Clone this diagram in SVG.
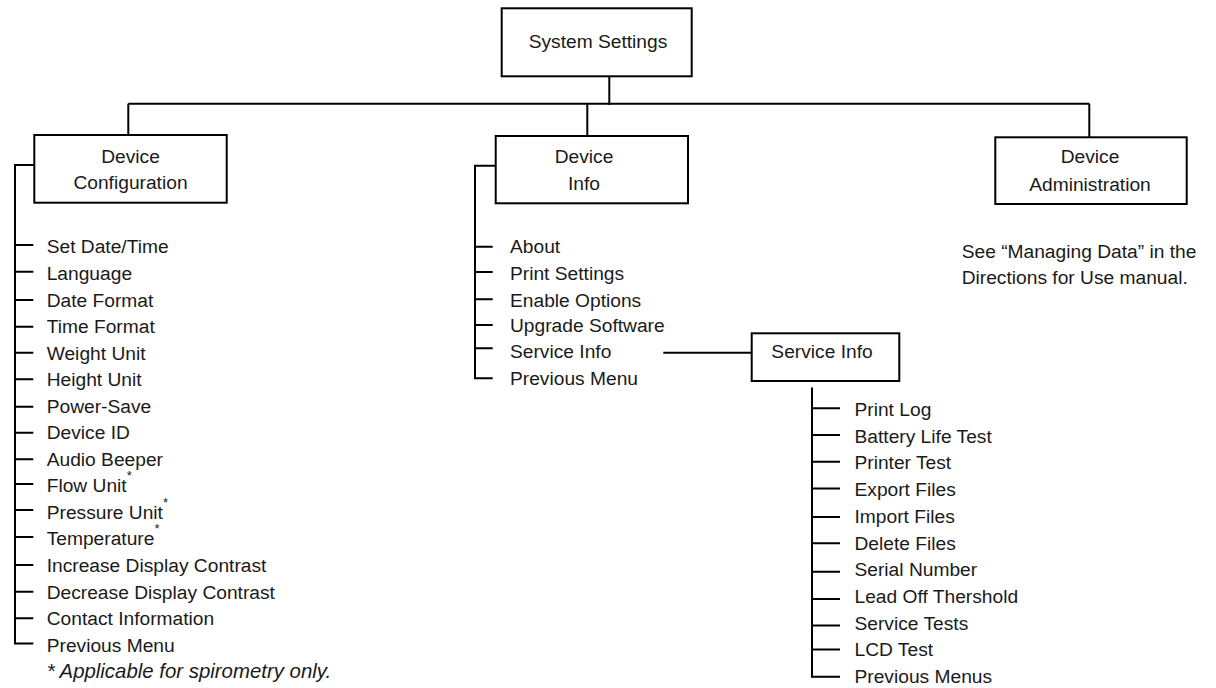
<svg xmlns="http://www.w3.org/2000/svg" width="1216" height="688" viewBox="0 0 1216 688">
<style>
  .box { fill: #ffffff; stroke: #000000; stroke-width: 2; }
  .ln { fill: none; stroke: #000000; stroke-width: 2; }
  text { font-family: "Liberation Sans", Arial, sans-serif; font-size: 19.2px; fill: #1a1a1a; }
  .c { text-anchor: middle; }
  .note { font-style: italic; font-size: 20.4px; }
  .sup { font-size: 13px; }
</style>
<rect width="1216" height="688" fill="#ffffff"/>
<g id="connectors">
  <path class="ln" d="M609.3,76.3 V105"/>
  <path class="ln" d="M128.3,103.7 H1089.3"/>
  <path class="ln" d="M128.3,103.7 V135"/>
  <path class="ln" d="M587.3,103.7 V136"/>
  <path class="ln" d="M1089.3,103.7 V137.3"/>
  <path class="ln" d="M34.3,165 H15 V643.5 H33.3"/>
  <path class="ln" d="M15,245 H33.3 M15,271.7 H33.3 M15,300 H33.3 M15,326.7 H33.3 M15,352.7 H33.3 M15,379.3 H33.3 M15,406.7 H33.3 M15,432.7 H33.3 M15,459.3 H33.3 M15,484 H33.3 M15,510 H33.3 M15,537 H33.3 M15,565 H33.3 M15,591.7 H33.3 M15,618.3 H33.3"/>
  <path class="ln" d="M495.7,165.7 H475 V378.3 H492.7"/>
  <path class="ln" d="M475,246.7 H492.7 M475,272 H492.7 M475,299.3 H492.7 M475,325 H492.7 M475,348.3 H492.7"/>
  <path class="ln" d="M663.3,352.7 H751.7"/>
  <path class="ln" d="M812,387.5 V677.7"/>
  <path class="ln" d="M812,408.3 H840 M812,435 H840 M812,461.7 H840 M812,488.4 H840 M812,517 H840 M812,543.3 H840 M812,571.7 H840 M812,599 H840 M812,625.5 H840 M812,649.5 H840 M812,676.7 H840"/>
</g>
<g id="system-settings">
  <rect class="box" x="501.7" y="8.3" width="190" height="68"/>
  <text class="c" x="598" y="48.3">System Settings</text>
</g>
<g id="device-configuration">
  <rect class="box" x="34.3" y="135" width="192.4" height="67.7"/>
  <text class="c" x="130.5" y="162.7">Device</text>
  <text class="c" x="130.5" y="189.3">Configuration</text>
</g>
<g id="device-info">
  <rect class="box" x="495.7" y="136" width="192.3" height="67.3"/>
  <text class="c" x="584" y="163.3">Device</text>
  <text class="c" x="584" y="190">Info</text>
</g>
<g id="device-administration">
  <rect class="box" x="995.3" y="137.3" width="191.4" height="66.7"/>
  <text class="c" x="1090" y="163.3">Device</text>
  <text class="c" x="1090" y="190.7">Administration</text>
</g>
<g id="admin-note">
  <text x="961.7" y="257.5">See “Managing Data” in the</text>
  <text x="961.7" y="283.5">Directions for Use manual.</text>
</g>
<g id="service-info">
  <rect class="box" x="751.7" y="333.3" width="147.6" height="47.7"/>
  <text class="c" x="822" y="358.3">Service Info</text>
</g>
<g id="device-configuration-items">
  <text x="46.7" y="253.3">Set Date/Time</text>
  <text x="46.7" y="279.9">Language</text>
  <text x="46.7" y="306.5">Date Format</text>
  <text x="46.7" y="333">Time Format</text>
  <text x="46.7" y="359.5">Weight Unit</text>
  <text x="46.7" y="386.1">Height Unit</text>
  <text x="46.7" y="412.7">Power-Save</text>
  <text x="46.7" y="439.2">Device ID</text>
  <text x="46.7" y="465.8">Audio Beeper</text>
  <text x="46.7" y="492">Flow Unit<tspan class="sup" dy="-12">*</tspan></text>
  <text x="46.7" y="518.6">Pressure Unit<tspan class="sup" dy="-12">*</tspan></text>
  <text x="46.7" y="545.2">Temperature<tspan class="sup" dy="-12">*</tspan></text>
  <text x="46.7" y="572">Increase Display Contrast</text>
  <text x="46.7" y="598.6">Decrease Display Contrast</text>
  <text x="46.7" y="625.1">Contact Information</text>
  <text x="46.7" y="651.7">Previous Menu</text>
  <text class="note" x="46.7" y="678.3">* Applicable for spirometry only.</text>
</g>
<g id="device-info-items">
  <text x="510" y="253.3">About</text>
  <text x="510" y="280">Print Settings</text>
  <text x="510" y="306.7">Enable Options</text>
  <text x="510" y="331.7">Upgrade Software</text>
  <text x="510" y="358.3">Service Info</text>
  <text x="510" y="385">Previous Menu</text>
</g>
<g id="service-info-items">
  <text x="854.5" y="416">Print Log</text>
  <text x="854.5" y="442.7">Battery Life Test</text>
  <text x="854.5" y="469.4">Printer Test</text>
  <text x="854.5" y="496.1">Export Files</text>
  <text x="854.5" y="522.8">Import Files</text>
  <text x="854.5" y="549.5">Delete Files</text>
  <text x="854.5" y="576.2">Serial Number</text>
  <text x="854.5" y="602.9">Lead Off Thershold</text>
  <text x="854.5" y="629.6">Service Tests</text>
  <text x="854.5" y="656.3">LCD Test</text>
  <text x="854.5" y="683">Previous Menus</text>
</g>
</svg>
